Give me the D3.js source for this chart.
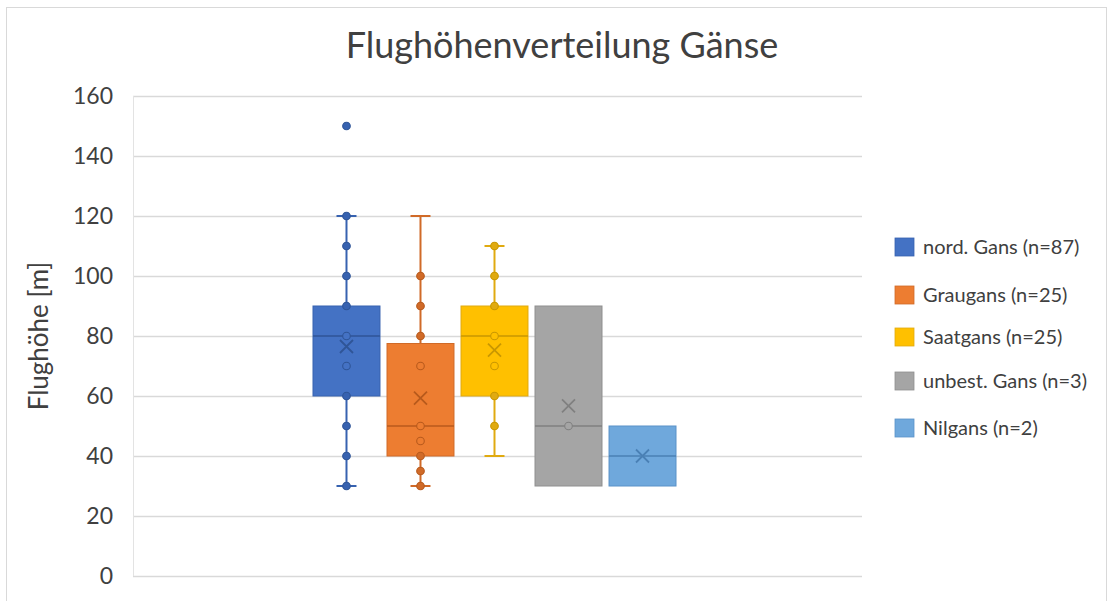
<!DOCTYPE html>
<html><head><meta charset="utf-8">
<script src="https://cdn.jsdelivr.net/npm/d3@7"></script>
<style>
html,body{margin:0;padding:0;background:#fff;}
svg text{font-family:Lato,"Open Sans",sans-serif;fill:#404040;}
</style></head>
<body><svg id="chart" width="1107" height="601"></svg>
<script>
// ---- data ----
const series = ["nord. Gans (n=87)", "Graugans (n=25)", "Saatgans (n=25)", "unbest. Gans (n=3)", "Nilgans (n=2)"];
const q1 = [60, 40, 60, 30, 30];
const median = [80, 50, 80, 50, 40];
const q3 = [90, 77.5, 90, 90, 50];
const whiskerLow = [30, 30, 40, null, null];
const whiskerHigh = [120, 120, 110, null, null];
const means = [76.5, 59.3, 75.3, 56.7, 40];
const innerPoints = [
  [30, 40, 50, 60, 70, 80, 90, 100, 110, 120],
  [30, 35, 40, 45, 50, 70, 80, 90, 100],
  [50, 60, 70, 80, 90, 100, 110],
  [50],
  []
];
const outliers = [[150], [], [], [], []];
const yTicks = [0, 20, 40, 60, 80, 100, 120, 140, 160];
const title = "Flughöhenverteilung Gänse";
const yTitle = "Flughöhe [m]";

// ---- styles ----
const fills = ["#4472C4", "#ED7D31", "#FFC000", "#A5A5A5", "#6FA8DC"];
const strokes = ["#3762B0", "#D06A28", "#E0AA10", "#8F8F8F", "#5A92C8"];
const darks = ["#2F5597", "#B85A1C", "#C99700", "#808080", "#4A80B5"];

const svg = d3.select("#chart");
const plot = {l: 133, r: 862, t: 96, b: 576};

// outer border
svg.append("rect").attr("x", 6.5).attr("y", 7.5).attr("width", 1100).attr("height", 600)
  .attr("fill", "#fff").attr("stroke", "#d9d9d9").attr("stroke-width", 1);

const y = d3.scaleLinear().domain([0, 160]).range([plot.b, plot.t]);
const x = d3.scaleBand().domain(series).range([313, 676]).paddingInner(0.095).paddingOuter(0);

// gridlines
svg.append("g").selectAll("line").data(yTicks).join("line")
  .attr("x1", plot.l).attr("x2", plot.r)
  .attr("y1", d => y(d) + 0.5).attr("y2", d => y(d) + 0.5)
  .attr("stroke", "#d9d9d9").attr("stroke-width", 1.3);
// left axis line
svg.append("line").attr("x1", plot.l + 0.5).attr("x2", plot.l + 0.5).attr("y1", plot.t).attr("y2", plot.b)
  .attr("stroke", "#e3e3e3").attr("stroke-width", 1);

// y axis
const yAxis = d3.axisLeft(y).tickValues(yTicks).tickSize(0).tickPadding(20);
const ga = svg.append("g").attr("transform", `translate(${plot.l},0)`).call(yAxis);
ga.select(".domain").remove();
ga.selectAll("text").attr("font-size", 23).attr("fill", "#404040")
  .attr("font-family", "Lato, 'Open Sans', sans-serif");

// title
svg.append("text").attr("x", 562).attr("y", 58).attr("text-anchor", "middle")
  .attr("font-size", 36).text(title);
// y title
svg.append("text").attr("transform", "translate(48,336) rotate(-90)").attr("text-anchor", "middle")
  .attr("font-size", 26).text(yTitle);

const bw = x.bandwidth();
const g = svg.append("g");
series.forEach((s, i) => {
  const cx = x(s) + bw / 2;
  const gg = g.append("g");
  // whiskers
  if (whiskerHigh[i] != null) {
    gg.append("line").attr("x1", cx).attr("x2", cx).attr("y1", y(q3[i])).attr("y2", y(whiskerHigh[i]))
      .attr("stroke", strokes[i]).attr("stroke-width", 2);
    gg.append("line").attr("x1", cx - 10).attr("x2", cx + 10).attr("y1", y(whiskerHigh[i])).attr("y2", y(whiskerHigh[i]))
      .attr("stroke", strokes[i]).attr("stroke-width", 2);
  }
  if (whiskerLow[i] != null) {
    gg.append("line").attr("x1", cx).attr("x2", cx).attr("y1", y(q1[i])).attr("y2", y(whiskerLow[i]))
      .attr("stroke", strokes[i]).attr("stroke-width", 2);
    gg.append("line").attr("x1", cx - 10).attr("x2", cx + 10).attr("y1", y(whiskerLow[i])).attr("y2", y(whiskerLow[i]))
      .attr("stroke", strokes[i]).attr("stroke-width", 2);
  }
  // box
  gg.append("rect").attr("x", x(s)).attr("y", y(q3[i])).attr("width", bw).attr("height", y(q1[i]) - y(q3[i]))
    .attr("fill", fills[i]).attr("stroke", strokes[i]).attr("stroke-width", 1);
  // median
  gg.append("line").attr("x1", x(s)).attr("x2", x(s) + bw).attr("y1", y(median[i])).attr("y2", y(median[i]))
    .attr("stroke", darks[i]).attr("stroke-width", 1.5);
  // inner points
  gg.selectAll("circle.p").data(innerPoints[i]).join("circle").attr("class", "p")
    .attr("cx", cx).attr("cy", d => y(d)).attr("r", 3.8)
    .attr("fill", d => (d > q1[i] && d < q3[i]) ? fills[i] : strokes[i])
    .attr("stroke", darks[i]).attr("stroke-width", 1.1);
  // outliers
  gg.selectAll("circle.o").data(outliers[i]).join("circle").attr("class", "o")
    .attr("cx", cx).attr("cy", d => y(d)).attr("r", 3.8)
    .attr("fill", strokes[i]).attr("stroke", darks[i]).attr("stroke-width", 1.1);
  // mean marker X
  const my = y(means[i]), k = 6.5;
  gg.append("path").attr("d", `M${cx - k},${my - k}L${cx + k},${my + k}M${cx - k},${my + k}L${cx + k},${my - k}`)
    .attr("stroke", darks[i]).attr("stroke-width", 1.8).attr("fill", "none");
});

// legend
const legY = [247, 295, 337, 381, 428];
const lg = svg.append("g");
series.forEach((s, i) => {
  lg.append("rect").attr("x", 895).attr("y", legY[i] - 9).attr("width", 19).attr("height", 18)
    .attr("fill", fills[i]).attr("stroke", strokes[i]).attr("stroke-width", 0.8);
  lg.append("text").attr("x", 923).attr("y", legY[i]).attr("dy", "0.35em")
    .attr("font-size", 20).text(s);
});
</script></body></html>
